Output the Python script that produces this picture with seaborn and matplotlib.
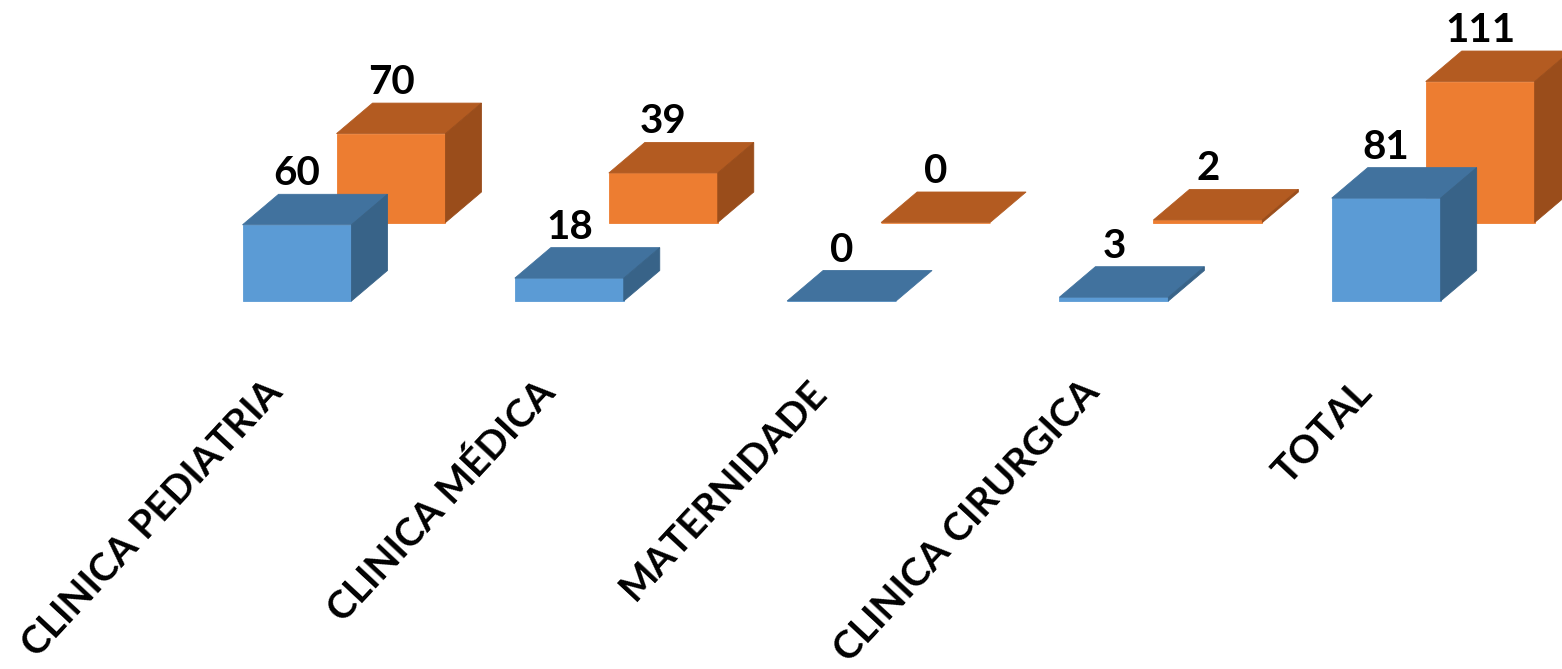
import numpy as np
import pandas as pd
import matplotlib
matplotlib.use("Agg")
import matplotlib.pyplot as plt
import seaborn as sns
from matplotlib.patches import Polygon
from matplotlib.transforms import ScaledTranslation

# ---- data ----
categories = ["CLINICA PEDIATRIA", "CLINICA MÉDICA", "MATERNIDADE", "CLINICA CIRURGICA", "TOTAL"]
series_front = [60, 18, 0, 3, 81]     # blue row (front)
series_back = [70, 39, 0, 2, 111]     # orange row (back)

# ---- styles ----
BLUE_FRONT, BLUE_TOP, BLUE_SIDE = "#5B9BD5", "#41729E", "#386388"
ORANGE_FRONT, ORANGE_TOP, ORANGE_SIDE = "#ED7D31", "#B35B21", "#9A4D1B"

sns.set_theme(style="white")
plt.rcParams['font.family'] = ['Lato', 'DejaVu Sans']

fig = plt.figure(figsize=(15.62, 6.69), dpi=100)
fig.patch.set_facecolor("white")
ax = fig.add_axes([0, 0.4215, 1, 0.5785])

PX_X = 272.3   # px per category step
PX_Y = 1.27    # px per value unit
depth_dx = 36 / PX_X
depth_dy = 30.5 / PX_Y
back_dx = 94 / PX_X
back_dy = 78.5 / PX_Y

df_back = pd.DataFrame({"cat": categories, "val": series_back})
df_front = pd.DataFrame({"cat": categories, "val": series_front})

n0 = len(ax.patches)
sns.barplot(data=df_back, x="cat", y="val", color=ORANGE_FRONT, saturation=1,
            width=0.4, errorbar=None, ax=ax, zorder=1, linewidth=0)
back_patches = list(ax.patches[n0:])
for p in back_patches:
    p.set_x(p.get_x() + back_dx)
    p.set_y(back_dy)

n1 = len(ax.patches)
sns.barplot(data=df_front, x="cat", y="val", color=BLUE_FRONT, saturation=1,
            width=0.4, errorbar=None, ax=ax, zorder=3, linewidth=0)
front_patches = list(ax.patches[n1:])


def add_3d(patches, values, top_c, side_c, front_c, z):
    for p, v in zip(patches, values):
        x0 = p.get_x(); w = p.get_width()
        y0 = p.get_y(); h = p.get_height()
        x1 = x0 + w; y1 = y0 + h
        p.set_edgecolor(front_c); p.set_linewidth(0.6)
        top = Polygon([(x0, y1), (x1, y1), (x1 + depth_dx, y1 + depth_dy), (x0 + depth_dx, y1 + depth_dy)],
                      closed=True, facecolor=top_c, edgecolor=top_c, linewidth=0.6, zorder=z)
        ax.add_patch(top)
        if h > 0:
            side = Polygon([(x1, y0), (x1 + depth_dx, y0 + depth_dy), (x1 + depth_dx, y1 + depth_dy), (x1, y1)],
                           closed=True, facecolor=side_c, edgecolor=side_c, linewidth=0.6, zorder=z)
            ax.add_patch(side)
        ax.text(x0 + w / 2, y1 + depth_dy + 9 / PX_Y, f"{v}", ha="center", va="baseline",
                fontsize=29, fontweight="bold", color="black", zorder=z + 1)


add_3d(back_patches, series_back, ORANGE_TOP, ORANGE_SIDE, ORANGE_FRONT, 1)
add_3d(front_patches, series_front, BLUE_TOP, BLUE_SIDE, BLUE_FRONT, 3)

# ---- axes ----
ax.set_xlim(-297 / PX_X, (1562 - 297) / PX_X)
ax_h_px = 0.5785 * 669
ax.set_ylim(-(ax_h_px - 301) / PX_Y, 301 / PX_Y)
ax.set_yticks([])
ax.set_xlabel("")
ax.set_ylabel("")
for s in ax.spines.values():
    s.set_visible(False)
ax.set_xticks(range(len(categories)))
ax.set_xticklabels(categories, rotation=47, ha="right", va="center",
                   rotation_mode="anchor", fontsize=28, fontweight="bold", color="black")
ax.tick_params(axis="x", length=0, pad=0)
offset = ScaledTranslation(-21 / 100, 1 / 100, fig.dpi_scale_trans)
for lab in ax.get_xticklabels():
    lab.set_transform(lab.get_transform() + offset)

fig.savefig("out.png", dpi=100, facecolor="white")
